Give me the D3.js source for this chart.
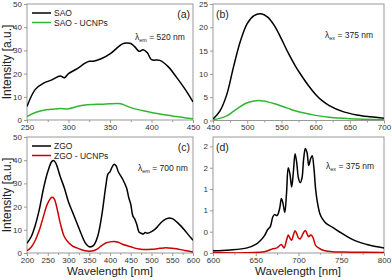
<!DOCTYPE html>
<html>
<head>
<meta charset="utf-8">
<script src="https://cdn.jsdelivr.net/npm/d3@7"></script>
<style>
    body { margin: 0; background: #fff; }
    svg { display: block; font-family: Arial, "Liberation Sans", sans-serif; }
    .axis text { fill: #333; font-size: 8px; }
    .axis path, .axis line { stroke: #999; }
</style>
</head>
<body>
<div id="chart"></div>
<script>
// ---- data (wavelength in nm, intensity in a.u.) ----
const sao_x = [250, 260, 270, 280, 290, 295, 300, 310, 320, 325, 330, 340, 350, 360, 365, 370, 375, 380, 385, 390, 395, 400, 410, 420, 430, 440, 450];
const sao_y = [5.8, 13.2, 15.9, 17.3, 19, 18.2, 20, 22, 24.5, 25.3, 25.3, 26.5, 28.5, 31.5, 32.8, 33.2, 33, 31.5, 29.6, 30.3, 29, 26, 25.7, 23, 18.5, 13.5, 7.8];
const saoUc_x = [250, 260, 270, 280, 290, 300, 310, 320, 330, 340, 350, 360, 365, 370, 380, 390, 400, 410, 420, 430, 440, 450];
const saoUc_y = [1.5, 3.2, 4.2, 4.6, 5.0, 4.8, 5.8, 6.5, 6.7, 6.8, 7.0, 7.1, 6.8, 6.0, 4.8, 4.0, 3.2, 2.6, 2.0, 1.5, 1.0, 0.5];

const saoEx_x = [450, 460, 470, 480, 490, 500, 510, 520, 530, 540, 550, 560, 570, 580, 590, 600, 610, 620, 640, 660, 680, 700];
const saoEx_y = [0.3, 2, 5.5, 11.5, 17, 20.8, 22.5, 22.9, 22.2, 20.3, 17.5, 14.5, 11.8, 9.5, 7.4, 5.6, 4.2, 3.2, 1.9, 1.2, 0.8, 0.5];
const saoUcEx_x = [450, 470, 480, 490, 500, 510, 520, 530, 540, 550, 560, 570, 580, 600, 620, 650, 700];
const saoUcEx_y = [0.1, 1.0, 2.0, 3.0, 3.8, 4.2, 4.25, 4.0, 3.6, 3.1, 2.6, 2.1, 1.7, 1.1, 0.7, 0.4, 0.2];

const zgo_x = [200, 210, 220, 230, 240, 250, 260, 265, 270, 280, 290, 300, 310, 320, 330, 340, 350, 360, 370, 380, 390, 395, 400, 405, 410, 415, 420, 430, 440, 445, 450, 455, 460, 465, 470, 475, 480, 485, 490, 500, 510, 520, 530, 540, 550, 560, 570, 580, 590, 600];
const zgo_y = [4.2, 7, 12, 19, 28, 35, 39.5, 39.8, 38.5, 33, 28, 22, 17.5, 13, 8.5, 4.5, 2.7, 3.2, 7, 16, 29, 34, 35, 37, 38.3, 37.5, 35, 32, 28, 24, 21, 16, 14.5, 12, 9, 8.5, 8.2, 8.8, 8.5, 9.2, 10.5, 12.5, 14.2, 15, 14.8, 13.5, 11.8, 9.8, 7.6, 5.5];
const zgoUc_x = [200, 210, 220, 230, 240, 250, 260, 265, 270, 280, 290, 300, 310, 320, 330, 340, 350, 360, 370, 380, 390, 400, 410, 420, 430, 440, 450, 460, 470, 480, 500, 520, 530, 540, 560, 580, 600];
const zgoUc_y = [1.0, 2.5, 5.5, 10, 16, 21.5, 24, 23.5, 21, 13, 7, 4.5, 3, 2.2, 1.5, 1.0, 0.8, 1.0, 1.8, 3.2, 4.3, 4.8, 5.0, 4.6, 3.8, 3.2, 2.7, 2.1, 1.7, 1.5, 1.6, 2.0, 2.2, 2.2, 1.8, 1.1, 0.4];

const zgoEx_x = [600, 620, 640, 650, 655, 660, 664, 667, 670, 672, 675, 678, 680, 682, 684, 686, 688, 690, 692, 694, 696, 698, 700, 702, 704, 706, 708, 710, 712, 714, 716, 718, 720, 722, 725, 728, 732, 740, 750, 760, 770, 780, 790, 800];
const zgoEx_y = [0.05, 0.07, 0.12, 0.2, 0.28, 0.4, 0.55, 0.62, 0.85, 0.9, 0.88, 1.05, 1.28, 1.15, 0.95, 1.4, 2.0, 1.85, 1.55, 1.9, 2.33, 2.1, 1.75, 1.65, 1.75, 2.2, 2.45, 2.35, 2.05, 2.2, 2.28, 2.0, 1.5, 1.2, 0.92, 0.8, 0.7, 0.6, 0.47, 0.35, 0.26, 0.2, 0.15, 0.12];
const zgoUcEx_x = [600, 660, 670, 675, 680, 683, 686, 688, 690, 692, 694, 696, 698, 700, 702, 704, 706, 708, 710, 712, 714, 716, 718, 720, 725, 730, 740, 760, 800];
const zgoUcEx_y = [0.01, 0.03, 0.1, 0.12, 0.2, 0.12, 0.3, 0.42, 0.35, 0.3, 0.42, 0.52, 0.45, 0.35, 0.33, 0.4, 0.48, 0.53, 0.45, 0.38, 0.42, 0.4, 0.3, 0.18, 0.1, 0.06, 0.03, 0.02, 0.01];

// tick values
const ticksA_x = [250, 300, 350, 400, 450], ticksA_y = [0, 10, 20, 30, 40, 50];
const ticksB_x = [450, 500, 550, 600, 650, 700], ticksB_y = [0, 5, 10, 15, 20, 25];
const ticksC_x = [200, 250, 300, 350, 400, 450, 500, 550, 600], ticksC_y = [0, 10, 20, 30, 40, 50];
const ticksD_x = [600, 650, 700, 750, 800], ticksD_y = [0, 0.5, 1, 1.5, 2, 2.5];

const zip = (xs, ys) => xs.map((x, i) => ({x: x, y: ys[i]}));

const black = "#000", green = "#2eb82e", red = "#cc0000";

const svg = d3.select("#chart").append("svg")
    .attr("width", 392)
    .attr("height", 280);

function drawPanel(p) {
    let g = svg.append("g");

    let x = d3.scaleLinear().domain(p.xDomain).range([p.left, p.right]);
    let y = d3.scaleLinear().domain(p.yDomain).range([p.bottom, p.top]);

    // frame
    g.append("rect")
        .attr("x", p.left).attr("y", p.top)
        .attr("width", p.right - p.left).attr("height", p.bottom - p.top)
        .attr("fill", "none").attr("stroke", "#999").attr("stroke-width", 1);

    // minor ticks
    let minorX = p.xTicks.slice(1).map((t, i) => (t + p.xTicks[i]) / 2);
    g.append("g")
        .attr("class", "axis")
        .attr("transform", `translate(0,${p.bottom})`)
        .call(d3.axisBottom(x).tickValues(minorX).tickSize(2).tickFormat(""))
        .select(".domain").remove();

    g.append("g")
        .attr("class", "axis")
        .attr("transform", `translate(0,${p.bottom})`)
        .call(d3.axisBottom(x).tickValues(p.xTicks).tickSize(3).tickPadding(1).tickFormat(d3.format("d")))
        .select(".domain").remove();

    g.append("g")
        .attr("class", "axis")
        .attr("transform", `translate(${p.left},0)`)
        .call(d3.axisLeft(y).tickValues(p.yTicks).tickSize(3).tickPadding(2).tickFormat(p.yFormat || d3.format("d")))
        .select(".domain").remove();

    let line = d3.line()
        .curve(d3.curveCatmullRom)
        .x(d => x(d.x))
        .y(d => y(d.y));

    g.append("defs").append("clipPath").attr("id", "clip" + p.name)
        .append("rect")
        .attr("x", p.left).attr("y", p.top)
        .attr("width", p.right - p.left).attr("height", p.bottom - p.top);

    p.series.forEach(s => {
        g.append("path")
            .datum(s.data)
            .attr("clip-path", `url(#clip${p.name})`)
            .attr("fill", "none")
            .attr("stroke", s.color)
            .attr("stroke-width", 1.5)
            .attr("d", line);
    });

    // panel letter
    g.append("text")
        .attr("x", p.letterX).attr("y", p.top + 14)
        .attr("text-anchor", p.letterAnchor)
        .attr("font-size", 10.5).attr("fill", "#222")
        .text(`(${p.name})`);

    // lambda annotation
    let lam = g.append("text")
        .attr("x", p.lamX).attr("y", p.lamY)
        .attr("font-size", 8.5).attr("fill", "#222");
    lam.append("tspan").text("λ");
    lam.append("tspan").attr("font-size", 5.5).attr("dy", 2).text(p.lamSub);
    lam.append("tspan").attr("dy", -2).text(" = " + p.lamVal);

    // legend
    if (p.legend) {
        p.legend.forEach((l, i) => {
            let ly = p.top + 9 + i * 9.5;
            g.append("line")
                .attr("x1", p.left + 5).attr("x2", p.left + 24)
                .attr("y1", ly).attr("y2", ly)
                .attr("stroke", l.color).attr("stroke-width", 1.5);
            g.append("text")
                .attr("x", p.left + 27).attr("y", ly + 3)
                .attr("font-size", 8.5).attr("fill", "#222")
                .text(l.label);
        });
    }
}

drawPanel({
    name: "a", left: 27, right: 193, top: 4, bottom: 120,
    xDomain: [250, 450], yDomain: [0, 50], xTicks: ticksA_x, yTicks: ticksA_y,
    series: [{data: zip(sao_x, sao_y), color: black}, {data: zip(saoUc_x, saoUc_y), color: green}],
    legend: [{label: "SAO", color: black}, {label: "SAO - UCNPs", color: green}],
    letterX: 190, letterAnchor: "end",
    lamX: 135, lamY: 40, lamSub: "em", lamVal: "520 nm"
});

drawPanel({
    name: "b", left: 213, right: 384, top: 4, bottom: 120.5,
    xDomain: [450, 700], yDomain: [0, 25], xTicks: ticksB_x, yTicks: ticksB_y,
    series: [{data: zip(saoEx_x, saoEx_y), color: black}, {data: zip(saoUcEx_x, saoUcEx_y), color: green}],
    letterX: 216, letterAnchor: "start",
    lamX: 325, lamY: 38, lamSub: "ex", lamVal: "375 nm"
});

drawPanel({
    name: "c", left: 27, right: 193, top: 137, bottom: 253,
    xDomain: [200, 600], yDomain: [0, 50], xTicks: ticksC_x, yTicks: ticksC_y,
    series: [{data: zip(zgo_x, zgo_y), color: black}, {data: zip(zgoUc_x, zgoUc_y), color: red}],
    legend: [{label: "ZGO", color: black}, {label: "ZGO - UCNPs", color: red}],
    letterX: 190, letterAnchor: "end",
    lamX: 138, lamY: 171, lamSub: "em", lamVal: "700 nm"
});

drawPanel({
    name: "d", left: 213, right: 384, top: 137, bottom: 253,
    xDomain: [600, 800], yDomain: [0, 2.72], xTicks: ticksD_x, yTicks: ticksD_y,
    yFormat: d => Math.floor(d),
    series: [{data: zip(zgoEx_x, zgoEx_y), color: black}, {data: zip(zgoUcEx_x, zgoUcEx_y), color: red}],
    letterX: 216, letterAnchor: "start",
    lamX: 326, lamY: 169, lamSub: "ex", lamVal: "375 nm"
});

// axis titles
svg.append("text")
    .attr("transform", "translate(11,62)rotate(-90)")
    .attr("text-anchor", "middle").attr("font-size", 12).attr("fill", "#222")
    .text("Intensity [a.u.]");
svg.append("text")
    .attr("transform", "translate(11,195)rotate(-90)")
    .attr("text-anchor", "middle").attr("font-size", 12).attr("fill", "#222")
    .text("Intensity [a.u.]");
svg.append("text")
    .attr("x", 110).attr("y", 275)
    .attr("text-anchor", "middle").attr("font-size", 11.5).attr("fill", "#222")
    .text("Wavelength [nm]");
svg.append("text")
    .attr("x", 298).attr("y", 275)
    .attr("text-anchor", "middle").attr("font-size", 11.5).attr("fill", "#222")
    .text("Wavelength [nm]");
</script>
</body>
</html>
